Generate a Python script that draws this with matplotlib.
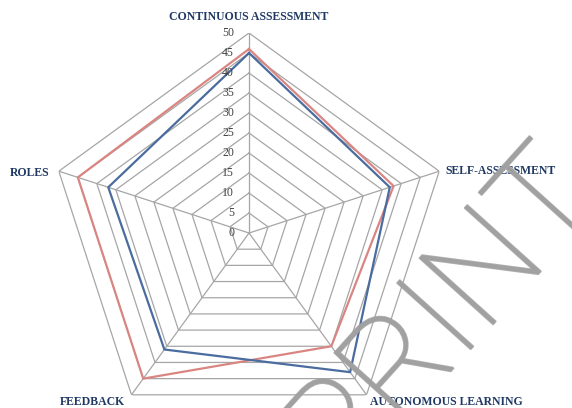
import numpy as np
import matplotlib
matplotlib.use("Agg")
import matplotlib.pyplot as plt
import matplotlib.patheffects as pe

# axes of the radar, clockwise from the top
categories = ["CONTINUOUS ASSESSMENT", "SELF-ASSESSMENT", "AUTONOMOUS LEARNING",
              "FEEDBACK", "ROLES"]
series_red = [46, 38, 35, 45, 45]
series_blue = [45, 37, 43, 36, 37]
levels = [0, 5, 10, 15, 20, 25, 30, 35, 40, 45, 50]

red = "#d98682"
blue = "#4a6c9e"
grid = "#a6a6a6"
navy = "#1f3864"

n = len(categories)
theta = np.pi / 2 - np.arange(n) * 2 * np.pi / n
theta_closed = np.append(theta, theta[0])

fig = plt.figure(figsize=(5.72, 4.08), dpi=100)
ax = fig.add_axes([0.0857, -0.0613, 0.6993, 0.9804], projection="polar")
ax.set_ylim(0, 50)
ax.set_xticks([])
ax.set_yticks([])
ax.grid(False)
ax.spines["polar"].set_visible(False)
ax.patch.set_alpha(0)

# pentagon gridlines and spokes
for lv in levels[1:]:
    ax.plot(theta_closed, [lv] * (n + 1), color=grid, lw=0.9, zorder=1)
for t in theta:
    ax.plot([t, t], [0, 50], color=grid, lw=0.9, zorder=1)

# series
ax.plot(theta_closed, series_red + series_red[:1], color=red, lw=1.6, zorder=3)
ax.plot(theta_closed, series_blue + series_blue[:1], color=blue, lw=1.6, zorder=3)

# value labels along the top spoke
for lv in levels:
    ax.annotate(str(lv), xy=(np.pi / 2, lv), xytext=(-15, 0), textcoords="offset pixels",
                ha="right", va="center", fontsize=8.5, family="Liberation Serif",
                color="#404040", zorder=4)

# category labels
offsets = [(0, 16, "center", "center"), (6, 0, "left", "center"),
           (3, -7, "left", "center"), (-6, -7, "right", "center"),
           (-9, -2, "right", "center")]
for t, lab, (dx, dy, ha, va) in zip(theta, categories, offsets):
    ax.annotate(lab, xy=(t, 50), xytext=(dx, dy), textcoords="offset pixels",
                ha=ha, va=va, fontsize=8.5, fontweight="bold", family="Liberation Serif",
                color=navy, annotation_clip=False)

# watermark
wm_color = "#a0a0a0"
fig.text(0.829, 0.154, "PRINT", rotation=48, rotation_mode="anchor",
         ha="center", va="baseline",
         fontsize=100, family="Roboto", fontweight="light", color=wm_color,
         alpha=0.85, zorder=10,
         path_effects=[pe.withStroke(linewidth=1.5, foreground=wm_color)])

fig.savefig("out.png", dpi=100)
